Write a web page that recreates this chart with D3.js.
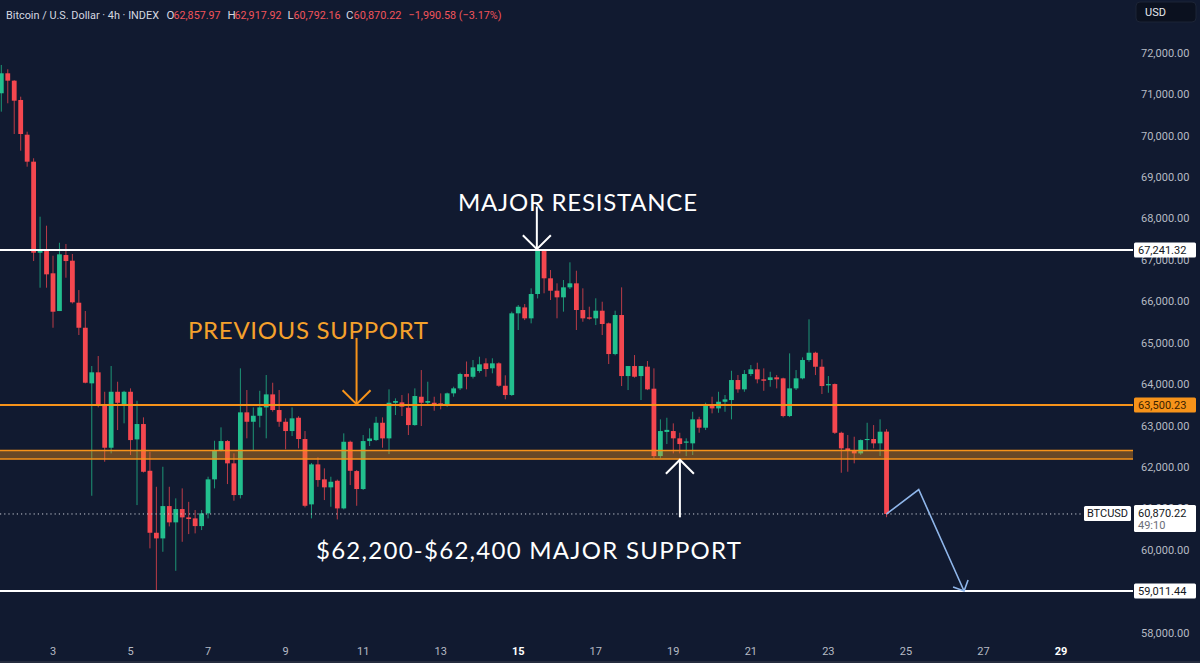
<!DOCTYPE html>
<html>
<head>
<meta charset="utf-8">
<script src="https://cdn.jsdelivr.net/npm/d3@7/dist/d3.min.js"></script>
<style>
html,body{margin:0;padding:0;background:#111a30;overflow:hidden;}
svg{display:block;}
</style>
</head>
<body>
<svg id="chart" width="1200" height="663"></svg>
<script>
// ---------- DATA ----------
const opens = [71024,71506,71328,70862,70024,69373,67176,67241,66679,65768,67120,66983,65969,65365,64023,64289,63499,62469,63820,63524,
63820,62670,63041,61913,60417,60281,61061,60668,60989,60788,60764,60578,60885,61706,62396,62630,62092,61327,63323,63096,
63241,63443,63757,63379,63096,62872,63193,62679,61102,62067,61706,61513,61672,61005,62613,61906,61472,62630,62654,63072,
62695,63555,63564,63434,63016,63700,63555,63555,63540,63482,63782,63902,64248,64182,64320,64506,64386,64506,63965,63741,
65713,65856,65592,66179,67225,66558,66259,66099,66340,66437,65793,65616,65592,65776,65471,64730,65672,64199,64441,64199,
64425,63894,62268,62850,62872,62696,62590,62575,63154,62952,63499,63419,63579,63620,64103,63878,64248,64361,64120,64103,
64168,64144,63234,63902,64144,64586,64762,64424,63975,64006,62830,62454,62413,62333,62654,62680,62575,62857.97];
const highs = [71707,71603,71340,70942,70097,69455,68045,67828,67103,67417,67386,67145,66275,65769,64441,64682,63820,64441,64062,63844,
63902,63603,63202,62372,61527,62010,61527,61247,61488,61163,60965,60965,61770,62637,62961,62654,62334,64385,63862,63443,
63844,64224,64038,63862,63178,63443,63230,62872,62100,62237,61971,61769,61700,62816,62640,61930,62775,62937,63216,63202,
63878,63661,63741,63781,63902,64344,64062,63700,63781,63800,63942,64279,64550,64586,64666,64627,64627,64530,64217,65753,
65914,65938,66316,67241.32,67241,66758,66437,66517,66944,66741,66316,65873,66075,65993,65490,65776,66340,64441,64706,64441,
64562,64385,63154,63193,63057,62831,62696,63337,63216,63555,63700,63820,63741,64327,64223,64344,64465,64521,64385,64303,
64223,64160,64747,64344,64650,65568,64786,64602,64199,64020,62856,62775,62735,62670,63072,63016,63154,62917.92];
const lows = [70580,70782,70041,69638,69252,66975,66331,66331,65365,65768,66572,65950,65189,64023,61310,63444,62131,62333,62896,63058,
62293,61085,61870,60040,59011.44,59958,60571,59499,60199,60385,60402,60482,60764,61488,62380,61592,61190,61246,62696,62396,
62961,62696,63340,62975,62432,62751,62454,61030,60764,61527,61206,61045,60740,60980,61568,61068,61450,62510,62630,62469,
62316,63258,63234,62775,63000,62993,63515,63362,63395,63458,63700,63861,63878,64140,64279,64183,64265,63940,63637,63720,
65310,65550,65471,66073,66196,66034,65592,65753,66300,65310,65510,65560,65430,65189,64489,64700,63958,63861,64160,63620,
63860,62213,62213,62558,62333,62333,62268,62293,62831,62896,63299,63313,63337,63154,63796,63820,64199,64023,63844,63942,
63902,63202,63210,63862,64120,64545,64223,63765,63796,62800,61865,61890,62092,62300,62413,62454,62268,60792.16];
const closes = [71506,71328,70845,70041,69373,67176,67250,66654,65752,67137,66975,65979,65365,64038,64289,63499,62469,63820,63554,63820,
62654,63041,61889,60417,60281,61061,60668,60989,60788,60748,60578,60885,61706,62396,62630,62092,61327,63323,63096,63241,
63443,63757,63379,63096,62872,63178,62679,61068,62067,61689,61513,61648,61005,62613,61913,61472,62630,62692,63072,62695,
63555,63596,63459,63016,63717,63555,63596,63500,63482,63782,63902,64248,64182,64409,64482,64368,64506,63965,63741,65713,
65872,65592,66179,67225,66558,66259,66099,66340,66437,65793,65592,65583,65776,65455,64730,65672,64199,64441,64183,64441,
63878,62268,62872,62900,62696,62558,62620,63154,62952,63499,63419,63579,63637,64103,63878,64248,64361,64120,64086,64168,
64120,63234,63902,64144,64586,64762,64424,63958,64006,62830,62454,62413,62333,62654,62680,62575,62856,60870.22];

const firstCandleDay = 1 + 16/24;      // 1st, 16:00
const candleHours = 4;
const dayTicks = [3,5,7,9,11,13,15,17,19,21,23,25,27,29];
const boldDayTicks = [15,29];
const priceTicks = [58000,59000,60000,61000,62000,63000,64000,65000,66000,67000,68000,69000,70000,71000,72000];

const resistanceLevel = 67241.32;
const prevSupportLevel = 63500.23;
const supportBand = [62200, 62400];
const targetLevel = 59011.44;
const lastClose = 60870.22;

const projDays = [24.5, 25.33, 26.5];
const projPrices = [60870.22, 61460, 59011.44];

// ---------- SCALES ----------
const svg = d3.select("#chart");
const W = 1200, H = 663, plotRight = 1133;
const x = d3.scaleLinear().domain([3, 29]).range([53, 1061]);
const y = d3.scaleLinear().domain([targetLevel, resistanceLevel]).range([591, 250]);

const UP = "#22bf8e", DOWN = "#f4474f", ORANGE = "#f7931a";
const candles = opens.map((o,i)=>({t:firstCandleDay + i*candleHours/24, o, h:highs[i], l:lows[i], c:closes[i]}));

svg.append("rect").attr("width",W).attr("height",H).attr("fill","#111a30");

// ---------- CANDLES ----------
const bw = 4.8;
const g = svg.append("g");
g.selectAll("line.wick").data(candles).join("line")
  .attr("x1",d=>x(d.t)).attr("x2",d=>x(d.t))
  .attr("y1",d=>y(d.h)).attr("y2",d=>y(d.l))
  .attr("stroke",d=>d.c>=d.o?UP:DOWN).attr("stroke-opacity",0.75).attr("stroke-width",1);
g.selectAll("rect.body").data(candles).join("rect")
  .attr("x",d=>x(d.t)-bw/2).attr("width",bw)
  .attr("y",d=>y(Math.max(d.o,d.c)))
  .attr("height",d=>Math.max(1,Math.abs(y(d.o)-y(d.c))))
  .attr("fill",d=>d.c>=d.o?UP:DOWN);

// ---------- LEVELS ----------
svg.append("rect").attr("x",0).attr("width",plotRight)
  .attr("y",y(supportBand[1])).attr("height",y(supportBand[0])-y(supportBand[1]))
  .attr("fill",ORANGE).attr("fill-opacity",0.38);
[supportBand[0],supportBand[1]].forEach(v=>{
  svg.append("line").attr("x1",0).attr("x2",plotRight).attr("y1",y(v)).attr("y2",y(v))
    .attr("stroke",ORANGE).attr("stroke-width",1.5);
});
svg.append("line").attr("x1",0).attr("x2",plotRight).attr("y1",y(prevSupportLevel)).attr("y2",y(prevSupportLevel))
  .attr("stroke",ORANGE).attr("stroke-width",2.2);
[resistanceLevel,targetLevel].forEach(v=>{
  svg.append("line").attr("x1",0).attr("x2",plotRight).attr("y1",y(v)).attr("y2",y(v))
    .attr("stroke","#ffffff").attr("stroke-width",2.2);
});
svg.append("line").attr("x1",0).attr("x2",1082).attr("y1",y(lastClose)).attr("y2",y(lastClose))
  .attr("stroke","#c9cdd6").attr("stroke-width",1).attr("stroke-dasharray","1.2,3");

// ---------- PROJECTION ----------
const pts = projDays.map((d,i)=>[x(d), y(projPrices[i])]);
svg.append("path").attr("d",d3.line()(pts)).attr("fill","none").attr("stroke","#8fb6ea").attr("stroke-width",1.6);
const tip = pts[2];
svg.append("path").attr("d",d3.line()([[tip[0]-11,tip[1]-4],tip,[tip[0]+4,tip[1]-11]]))
  .attr("fill","none").attr("stroke","#8fb6ea").attr("stroke-width",1.6);

// ---------- ANNOTATIONS ----------
function arrow(day, fromP, toP, color){
  const ax = x(day), y0 = y(fromP), y1 = y(toP);
  const dir = y1>y0?1:-1;
  svg.append("line").attr("x1",ax).attr("x2",ax).attr("y1",y0).attr("y2",y1).attr("stroke",color).attr("stroke-width",2);
  svg.append("path").attr("d",d3.line()([[ax-14,y1-dir*14],[ax,y1],[ax+14,y1-dir*14]]))
    .attr("fill","none").attr("stroke",color).attr("stroke-width",2);
}
arrow(15.48, 68290, resistanceLevel+20, "#ffffff");
arrow(10.83, 65120, prevSupportLevel+20, ORANGE);
arrow(19.17, 60790, 62180, "#ffffff");

const annFont = "Lato, 'Open Sans', sans-serif";
svg.append("text").attr("x",458).attr("y",211).attr("fill","#ffffff").attr("font-family",annFont)
  .attr("font-size",24).attr("textLength",239).attr("lengthAdjust","spacing").text("MAJOR RESISTANCE");
svg.append("text").attr("x",188).attr("y",339).attr("fill","#f5a12c").attr("font-family",annFont)
  .attr("font-size",24).attr("textLength",240).attr("lengthAdjust","spacing").text("PREVIOUS SUPPORT");
svg.append("text").attr("x",316).attr("y",559).attr("fill","#ffffff").attr("font-family",annFont)
  .attr("font-size",24).attr("textLength",425).attr("lengthAdjust","spacing").text("$62,200-$62,400 MAJOR SUPPORT");

// ---------- AXES ----------
const axFont = "Roboto, 'Noto Sans', sans-serif";
const fmt = d3.format(",.2f");
svg.append("g").selectAll("text").data(priceTicks).join("text")
  .attr("x",1141).attr("y",d=>y(d)).attr("dy","0.35em")
  .attr("fill","#b6bac4").attr("font-family",axFont).attr("font-size",11).text(d=>fmt(d));
svg.append("g").selectAll("text").data(dayTicks).join("text")
  .attr("x",d=>x(d)).attr("y",651).attr("dy","0.35em").attr("text-anchor","middle")
  .attr("fill",d=>boldDayTicks.includes(d)?"#ffffff":"#b6bac4")
  .attr("font-weight",d=>boldDayTicks.includes(d)?"bold":"normal")
  .attr("font-family",axFont).attr("font-size",11).text(d=>d);
svg.append("rect").attr("x",0).attr("y",661).attr("width",W).attr("height",2).attr("fill","#252c3e");

// price labels
function priceBox(v, bg, fg){
  const yy = y(v);
  svg.append("rect").attr("x",1134).attr("y",yy-7.5).attr("width",62).attr("height",15).attr("rx",1.5).attr("fill",bg);
  svg.append("text").attr("x",1138).attr("y",yy).attr("dy","0.35em").attr("fill",fg)
    .attr("font-family",axFont).attr("font-size",11).text(fmt(v));
}
priceBox(resistanceLevel,"#ffffff","#131722");
priceBox(prevSupportLevel,ORANGE,"#3a2200");
priceBox(targetLevel,"#ffffff","#131722");
// last price
const ly = y(lastClose);
svg.append("rect").attr("x",1134).attr("y",ly-9).attr("width",62).attr("height",27).attr("rx",1.5).attr("fill","#ffffff");
svg.append("text").attr("x",1138).attr("y",ly-1).attr("dy","0.35em").attr("fill","#131722")
  .attr("font-family",axFont).attr("font-size",11).text(fmt(lastClose));
svg.append("text").attr("x",1138).attr("y",ly+11).attr("dy","0.35em").attr("fill","#6a6d78")
  .attr("font-family",axFont).attr("font-size",11).text("49:10");
svg.append("rect").attr("x",1084).attr("y",ly-8).attr("width",47).attr("height",15).attr("rx",1.5).attr("fill","#ffffff");
svg.append("text").attr("x",1107.5).attr("y",ly-0.5).attr("dy","0.35em").attr("text-anchor","middle").attr("fill","#131722")
  .attr("font-family",axFont).attr("font-size",11).text("BTCUSD");

// USD button
svg.append("rect").attr("x",1136).attr("y",2).attr("width",60).attr("height",20).attr("rx",4).attr("fill","#0b111f").attr("stroke","#1c2436");
svg.append("text").attr("x",1145).attr("y",12.5).attr("dy","0.35em").attr("fill","#e6e8ee")
  .attr("font-family",axFont).attr("font-size",11).text("USD");

// ---------- HEADER ----------
const hdr = svg.append("g").attr("font-family",axFont).attr("font-size",11.5);
const RED = "#f2545b", LBL = "#d5d8e0";
const headerParts = [
  {x:6, t:"Bitcoin / U.S. Dollar · 4h · INDEX", c:LBL, w:153},
  {x:166.5, t:"O", c:LBL}, {x:173.5, t:"62,857.97", c:RED, w:47},
  {x:227.5, t:"H", c:LBL}, {x:234.5, t:"62,917.92", c:RED, w:47},
  {x:287.5, t:"L", c:LBL}, {x:293.5, t:"60,792.16", c:RED, w:47},
  {x:346, t:"C", c:LBL}, {x:353.5, t:"60,870.22", c:RED, w:48},
  {x:408.5, t:"\u22121,990.58 (\u22123.17%)", c:RED, w:93}
];
headerParts.forEach(p=>{
  const tx = hdr.append("text").attr("x",p.x).attr("y",14.5).attr("dy","0.35em").attr("fill",p.c).text(p.t);
  if(p.w) tx.attr("textLength",p.w).attr("lengthAdjust","spacingAndGlyphs");
});
</script>
</body>
</html>
